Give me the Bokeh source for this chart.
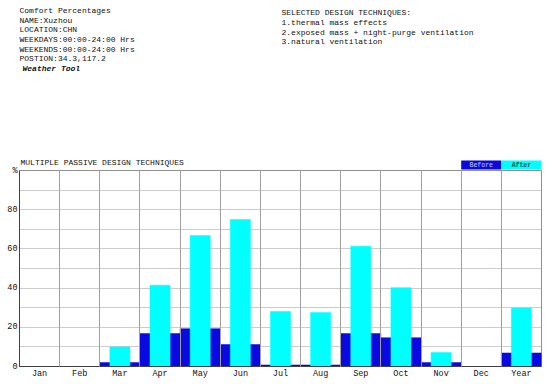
from bokeh.plotting import figure
from bokeh.models import FixedTicker, Range1d
from bokeh.core.properties import value
from bokeh.embed import file_html
from bokeh.resources import INLINE

# ---- data ----
months = ["Jan", "Feb", "Mar", "Apr", "May", "Jun", "Jul", "Aug", "Sep", "Oct", "Nov", "Dec", "Year"]
before = [0, 0, 2.0, 16.8, 19.3, 11.2, 0.8, 0.8, 16.8, 14.7, 2.0, 0, 6.9]
after = [0, 0, 10.0, 41.5, 66.8, 75.0, 28.1, 27.6, 61.4, 40.2, 7.1, 0, 29.8]
y_ticks = [0, 20, 40, 60, 80, 100]
y_tick_labels = ["0", "20", "40", "60", "80", "%"]
header_left = ["Comfort Percentages", "NAME:Xuzhou", "LOCATION:CHN",
               "WEEKDAYS:00:00-24:00 Hrs", "WEEKENDS:00:00-24:00 Hrs",
               "POSTION:34.3,117.2"]
header_tool = "Weather Tool"
header_right = ["SELECTED DESIGN TECHNIQUES:", "1.thermal mass effects",
                "2.exposed mass + night-purge ventilation", "3.natural ventilation"]
chart_title = "MULTIPLE PASSIVE DESIGN TECHNIQUES"
legend_names = ["Before", "After"]

MONO = "Liberation Mono"
BLUE = "#0a0ae0"
CYAN = "#00ffff"

ORIGIN_X, ORIGIN_Y = 0, 0
BL, BT, BB, BR = 19, 170, 17, 9
W, H = 550, 383
FW, FH = W - BL - BR, H - BT - BB
n = len(months)
xpx = FW / n
ypx = FH / 100.0
FRAME_LEFT = ORIGIN_X + BL
FRAME_TOP = ORIGIN_Y + BT


def dx(page_x):
    return (page_x - FRAME_LEFT) / xpx


def dy(page_y):
    return 100 + (FRAME_TOP - page_y) / ypx


p = figure(width=W, height=H, output_backend="svg", toolbar_location=None,
           x_range=Range1d(0, n), y_range=Range1d(0, 100),
           min_border_left=BL, min_border_top=BT, min_border_bottom=BB, min_border_right=BR)
p.background_fill_color = "white"
p.border_fill_color = "white"
p.outline_line_color = "#909090"

idx = list(range(n))
p.quad(left=idx, right=[i + 1 for i in idx], bottom=0, top=before,
       fill_color=BLUE, line_color=BLUE, line_width=0.5)
p.quad(left=[i + 0.25 for i in idx], right=[i + 0.75 for i in idx], bottom=0, top=after,
       fill_color=CYAN, line_color=CYAN, line_width=0.5)

# axes
p.xaxis.ticker = FixedTicker(ticks=[i + 0.5 for i in idx])
p.xaxis.major_label_overrides = {i + 0.5: m for i, m in zip(idx, months)}
p.yaxis.ticker = FixedTicker(ticks=y_ticks)
p.yaxis.major_label_overrides = {t: l for t, l in zip(y_ticks, y_tick_labels)}
for ax in (p.xaxis[0], p.yaxis[0]):
    ax.axis_line_color = "#404040"
    ax.axis_line_width = 1
    ax.major_tick_line_color = None
    ax.minor_tick_line_color = None
    ax.major_tick_out = 0
    ax.major_tick_in = 0
    ax.minor_tick_out = 0
    ax.major_label_text_font = MONO
    ax.major_label_text_font_size = "8.5px"
    ax.major_label_text_color = "#111111"
p.xaxis.major_label_standoff = 2
p.yaxis.major_label_standoff = 2

# grids
p.xgrid.ticker = FixedTicker(ticks=list(range(1, n)))
p.xgrid.grid_line_color = "#a0a0a0"
p.xgrid.grid_line_width = 1
p.xgrid.level = "overlay"
p.ygrid.ticker = FixedTicker(ticks=list(range(10, 100, 10)))
p.ygrid.grid_line_color = "#9a9a9a"
p.ygrid.grid_line_dash = "1 1"
p.ygrid.grid_line_width = 1

# legend boxes (outside the frame, overlay level is not clipped)
p.quad(left=[n - 2, n - 1], right=[n - 1, n], bottom=dy(169), top=dy(160),
       fill_color=[BLUE, CYAN], line_color=None, level="overlay")
p.text(x=[n - 1.5], y=[dy(164.5)], text=[legend_names[0]], text_font=value(MONO),
       text_font_size="6.5px", text_color="#c8d0ff", text_align="center",
       text_baseline="middle", level="overlay")
p.text(x=[n - 0.5], y=[dy(164.5)], text=[legend_names[1]], text_font=value(MONO),
       text_font_size="6.5px", text_color="#005050", text_align="center",
       text_baseline="middle", text_font_style="bold", level="overlay")

# chart title
p.text(x=[dx(20)], y=[dy(162)], text=[chart_title], text_font=value(MONO),
       text_font_size="8px", text_color="#111111", text_baseline="middle", level="overlay")

# header texts
left_ys = [10, 19.5, 29, 39, 48.5, 58]
p.text(x=[dx(19)] * len(header_left), y=[dy(v) for v in left_ys], text=header_left,
       text_font=value(MONO), text_font_size="8px", text_color="#111111",
       text_baseline="middle", level="overlay")
p.text(x=[dx(22)], y=[dy(68)], text=[header_tool], text_font=value(MONO),
       text_font_size="8px", text_font_style="bold italic", text_color="#111111",
       text_baseline="middle", level="overlay")
right_ys = [12, 21.5, 31.5, 41]
p.text(x=[dx(281)] * len(header_right), y=[dy(v) for v in right_ys], text=header_right,
       text_font=value(MONO), text_font_size="8px", text_color="#111111",
       text_baseline="middle", level="overlay")

open("out.html", "w").write(file_html(p, INLINE))
